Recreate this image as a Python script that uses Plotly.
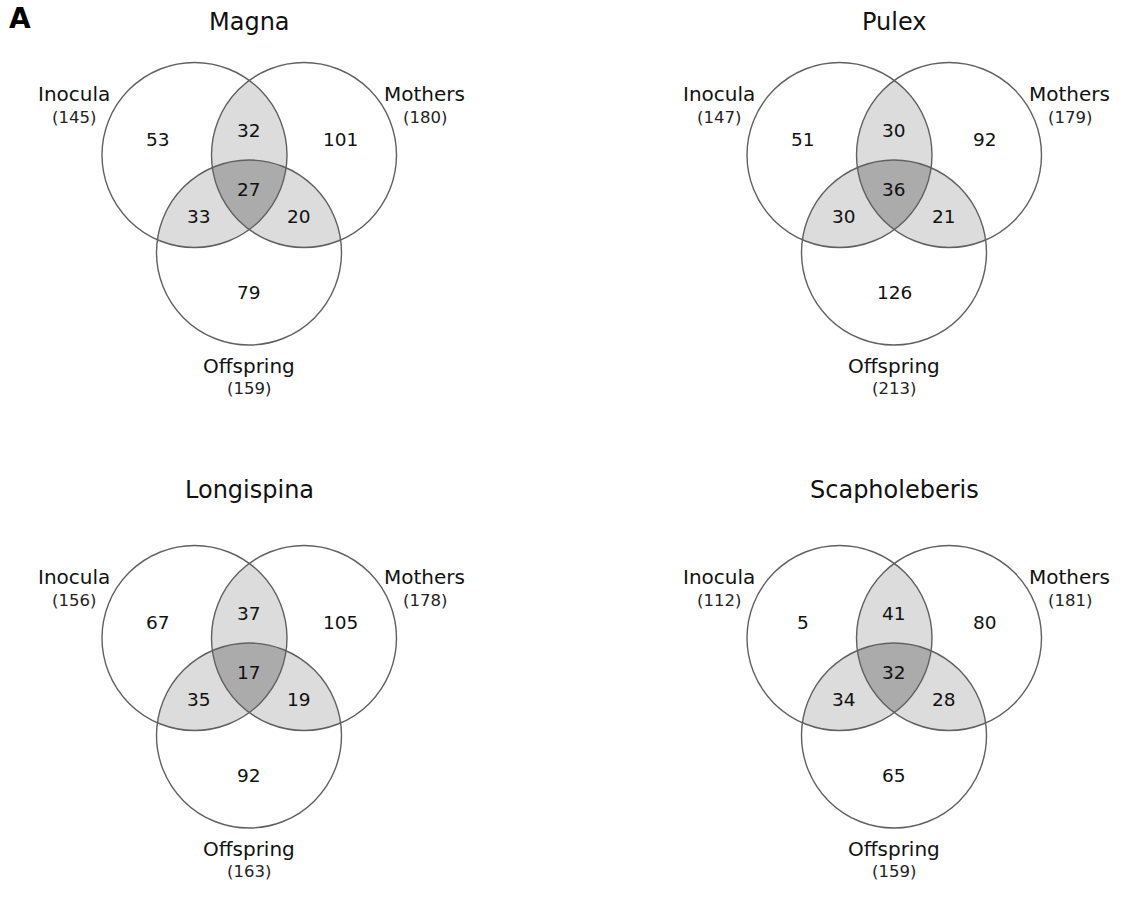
import numpy as np
import plotly.graph_objects as go

# Species panels and their exclusive / shared OTU counts
species = ["Magna", "Pulex", "Longispina", "Scapholeberis"]
set_names = ["Inocula", "Mothers", "Offspring"]
only_inocula = [53, 51, 67, 5]
only_mothers = [101, 92, 105, 80]
only_offspring = [79, 126, 92, 65]
inocula_mothers = [32, 30, 37, 41]
inocula_offspring = [33, 30, 35, 34]
mothers_offspring = [20, 21, 19, 28]
all_three = [27, 36, 17, 32]

W, H = 1133, 909
R = 92.5
# panel origin = centre of the "Inocula" circle
origins = [(194.5, 155.0), (839.5, 155.0), (194.5, 638.0), (839.5, 638.0)]
title_y = [22, 22, 490, 490]

LIGHT = "#dcdcdc"
DARK = "#ababab"
EDGE = "#606060"
FONT = "DejaVu Sans, Verdana, sans-serif"


def circle_centres(ox, oy):
    return [(ox, oy), (ox + 109.5, oy), (ox + 54.5, oy + 97.5)]


def region(centres):
    """Boundary polygon of the intersection of the given equal-radius disks."""
    pts = []
    t = np.linspace(0, 2 * np.pi, 2400, endpoint=False)
    for i, (cx, cy) in enumerate(centres):
        px = cx + R * np.cos(t)
        py = cy + R * np.sin(t)
        keep = np.ones_like(t, dtype=bool)
        for j, (dx, dy) in enumerate(centres):
            if j != i:
                keep &= (px - dx) ** 2 + (py - dy) ** 2 <= R ** 2 + 1e-6
        pts.append(np.column_stack([px[keep], py[keep]]))
    pts = np.vstack(pts)
    m = pts.mean(axis=0)
    order = np.argsort(np.arctan2(pts[:, 1] - m[1], pts[:, 0] - m[0]))
    pts = pts[order]
    return pts[:, 0], pts[:, 1]


fig = go.Figure()
shapes = []
annotations = []

for k, name in enumerate(species):
    ox, oy = origins[k]
    cA, cB, cC = circle_centres(ox, oy)
    gx = (cA[0] + cB[0]) / 2

    # shaded overlaps: pairwise lenses, then the triple overlap on top
    for pair in [(cA, cB), (cA, cC), (cB, cC)]:
        xs, ys = region(list(pair))
        fig.add_trace(go.Scatter(x=xs, y=ys, mode="lines", fill="toself",
                                 fillcolor=LIGHT, line=dict(width=0),
                                 hoverinfo="skip", showlegend=False))
    xs, ys = region([cA, cB, cC])
    fig.add_trace(go.Scatter(x=xs, y=ys, mode="lines", fill="toself",
                             fillcolor=DARK, line=dict(width=0),
                             hoverinfo="skip", showlegend=False))

    for (cx, cy) in (cA, cB, cC):
        shapes.append(dict(type="circle", xref="x", yref="y",
                           x0=cx - R, x1=cx + R, y0=cy - R, y1=cy + R,
                           line=dict(color=EDGE, width=1.4)))

    counts = [
        (only_inocula[k], ox - 37, oy - 16),
        (inocula_mothers[k], gx, oy - 25),
        (only_mothers[k], ox + 145.5, oy - 16),
        (all_three[k], gx, oy + 34),
        (inocula_offspring[k], ox + 4.5, oy + 61),
        (mothers_offspring[k], ox + 104.5, oy + 61),
        (only_offspring[k], gx, oy + 137),
    ]
    for v, x, y in counts:
        annotations.append(dict(x=x, y=y, text=str(v), showarrow=False,
                                xanchor="center", yanchor="middle",
                                font=dict(family=FONT, size=18.5, color="#111")))

    totals = [
        only_inocula[k] + inocula_mothers[k] + inocula_offspring[k] + all_three[k],
        only_mothers[k] + inocula_mothers[k] + mothers_offspring[k] + all_three[k],
        only_offspring[k] + inocula_offspring[k] + mothers_offspring[k] + all_three[k],
    ]
    label_pos = [(ox - 120.5, oy - 61, oy - 37.5),
                 (ox + 230, oy - 61, oy - 37.5),
                 (gx, oy + 210.5, oy + 233)]
    for s, tot, (x, y1, y2) in zip(set_names, totals, label_pos):
        annotations.append(dict(x=x, y=y1, text=s, showarrow=False,
                                xanchor="center", yanchor="middle",
                                font=dict(family=FONT, size=20, color="#111")))
        annotations.append(dict(x=x, y=y2, text=f"({tot})", showarrow=False,
                                xanchor="center", yanchor="middle",
                                font=dict(family=FONT, size=16.5, color="#222")))

    annotations.append(dict(x=gx, y=title_y[k], text=name, showarrow=False,
                            xanchor="center", yanchor="middle",
                            font=dict(family=FONT, size=24, color="#111")))

annotations.append(dict(x=19.5, y=18, text="<b>A</b>", showarrow=False,
                        xanchor="center", yanchor="middle",
                        font=dict(family="DejaVu Sans, Arial, sans-serif",
                                  size=28, color="#000")))

fig.update_layout(
    width=W, height=H,
    margin=dict(l=0, r=0, t=0, b=0),
    paper_bgcolor="white", plot_bgcolor="white",
    xaxis=dict(range=[0, W], visible=False, fixedrange=True),
    yaxis=dict(range=[H, 0], visible=False, fixedrange=True),
    shapes=shapes,
    annotations=annotations,
    showlegend=False,
)

fig.write_html("out.html")
